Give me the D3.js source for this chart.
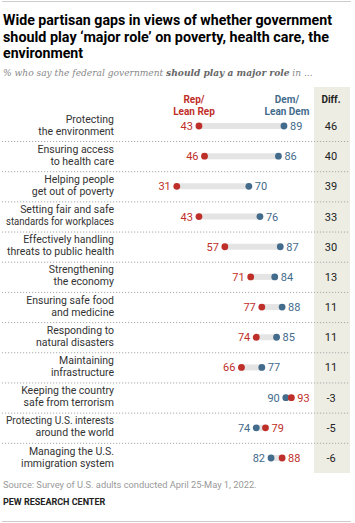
<!DOCTYPE html>
<html><head><meta charset="utf-8">
<script src="https://cdn.jsdelivr.net/npm/d3@7"></script>
<style>
body{margin:0;background:#fff;}
svg{display:block;font-family:Roboto,"Liberation Sans",Arial,sans-serif;}
</style></head>
<body><svg id="c" width="355" height="523"></svg>
<script>
const categories = [
  ["Protecting","the environment"],
  ["Ensuring access","to health care"],
  ["Helping people","get out of poverty"],
  ["Setting fair and safe","standards for workplaces"],
  ["Effectively handling","threats to public health"],
  ["Strengthening","the economy"],
  ["Ensuring safe food","and medicine"],
  ["Responding to","natural disasters"],
  ["Maintaining","infrastructure"],
  ["Keeping the country","safe from terrorism"],
  ["Protecting U.S. interests","around the world"],
  ["Managing the U.S.","immigration system"]
];
const repValues = [43,46,31,43,57,71,77,74,66,93,79,88];
const demValues = [89,86,70,76,87,84,88,85,77,90,74,82];
const diffLabels = ["46","40","39","33","30","13","11","11","11","-3","-5","-6"];

const RED="#bf2f2a", BLUE="#436b8c", BAR="#e4e4e4", BEIGE="#eeede4";
const svg=d3.select("#c");
const x=d3.scaleLinear().domain([0,100]).range([119.5,304.3]);
const y=d3.scalePoint().domain(d3.range(categories.length)).range([126,458]);

function fit(sel,maxW){
  sel.each(function(){
    const w=this.getComputedTextLength();
    if(w>maxW) d3.select(this).attr("textLength",maxW).attr("lengthAdjust","spacingAndGlyphs");
  });
}

svg.append("line").attr("x1",2).attr("x2",351).attr("y1",1.5).attr("y2",1.5).attr("stroke","#ccc");
svg.append("line").attr("x1",2).attr("x2",351).attr("y1",521.5).attr("y2",521.5).attr("stroke","#ccc");

const title=["Wide partisan gaps in views of whether government","should play ‘major role’ on poverty, health care, the","environment"];
const titleW=[329,326,80];
svg.selectAll("text.title").data(title).join("text").attr("class","title")
  .attr("x",3).attr("y",(d,i)=>25+i*16.6).attr("font-size",15).attr("font-weight","bold").attr("fill","#000")
  .text(d=>d).each(function(d,i){fit(d3.select(this),titleW[i]);});
let subSize=9.5;
const sub=svg.append("text").attr("x",3).attr("y",76).attr("font-size",subSize).attr("font-style","italic").attr("fill","#888")
  .attr("font-family","Georgia,'DejaVu Serif',serif");
sub.append("tspan").text("% who say the federal government ");
sub.append("tspan").attr("font-weight","bold").attr("fill","#666").text("should play a major role");
sub.append("tspan").text(" in ...");
const sw=sub.node().getComputedTextLength();
if(sw>310){ sub.attr("font-size",subSize*310/sw); }

svg.append("rect").attr("x",314).attr("y",87).attr("width",36).attr("height",386).attr("fill",BEIGE);
svg.append("text").attr("x",331).attr("y",103).attr("text-anchor","middle").attr("font-size",10).attr("font-weight","bold").attr("fill","#222").text("Diff.");

svg.selectAll("text.rh").data(["Rep/","Lean Rep"]).join("text").attr("class","rh")
  .attr("x",194).attr("y",(d,i)=>103+i*11.5).attr("text-anchor","middle").attr("font-size",10).attr("font-weight","bold").attr("fill",RED).text(d=>d);
svg.selectAll("text.dh").data(["Dem/","Lean Dem"]).join("text").attr("class","dh")
  .attr("x",287).attr("y",(d,i)=>103+i*11.5).attr("text-anchor","middle").attr("font-size",10).attr("font-weight","bold").attr("fill",BLUE).text(d=>d);

const rows=svg.append("g").selectAll("g").data(categories).join("g");
rows.each(function(cat,i){
  const g=d3.select(this), cy=y(i), r=repValues[i], d=demValues[i];
  if(i<categories.length-1){
    g.append("line").attr("x1",2).attr("x2",350).attr("y1",cy+15.5).attr("y2",cy+15.5)
      .attr("stroke","#aaa").attr("stroke-width",1).attr("stroke-dasharray","1.2,1.8");
  }
  const lab=g.selectAll("text.lab").data(cat).join("text").attr("class","lab")
    .attr("x",114).attr("y",(t,k)=>cy-3.5+k*12).attr("text-anchor","end").attr("font-size",10.5).attr("fill","#333").text(t=>t);
  fit(lab,108);
  g.append("line").attr("x1",x(Math.min(r,d))).attr("x2",x(Math.max(r,d))).attr("y1",cy).attr("y2",cy)
    .attr("stroke",BAR).attr("stroke-width",6);
  g.append("circle").attr("cx",x(d)).attr("cy",cy).attr("r",3.4).attr("fill",BLUE);
  g.append("circle").attr("cx",x(r)).attr("cy",cy).attr("r",3.4).attr("fill",RED);
  const repLeft=r<d;
  g.append("text").attr("x",repLeft?x(r)-6:x(r)+6).attr("y",cy+4).attr("text-anchor",repLeft?"end":"start")
    .attr("font-size",11).attr("fill",RED).text(r);
  g.append("text").attr("x",repLeft?x(d)+6:x(d)-6).attr("y",cy+4).attr("text-anchor",repLeft?"start":"end")
    .attr("font-size",11).attr("fill",BLUE).text(d);
  g.append("text").attr("x",331).attr("y",cy+4).attr("text-anchor","middle").attr("font-size",11).attr("fill","#222").text(diffLabels[i]);
});

svg.append("text").attr("x",3).attr("y",488).attr("font-size",9.3).attr("fill","#999").text("Source: Survey of U.S. adults conducted April 25-May 1, 2022.");
svg.append("text").attr("x",3).attr("y",505).attr("font-size",9).attr("font-weight","bold").attr("fill","#222").text("PEW RESEARCH CENTER");
</script></body></html>
